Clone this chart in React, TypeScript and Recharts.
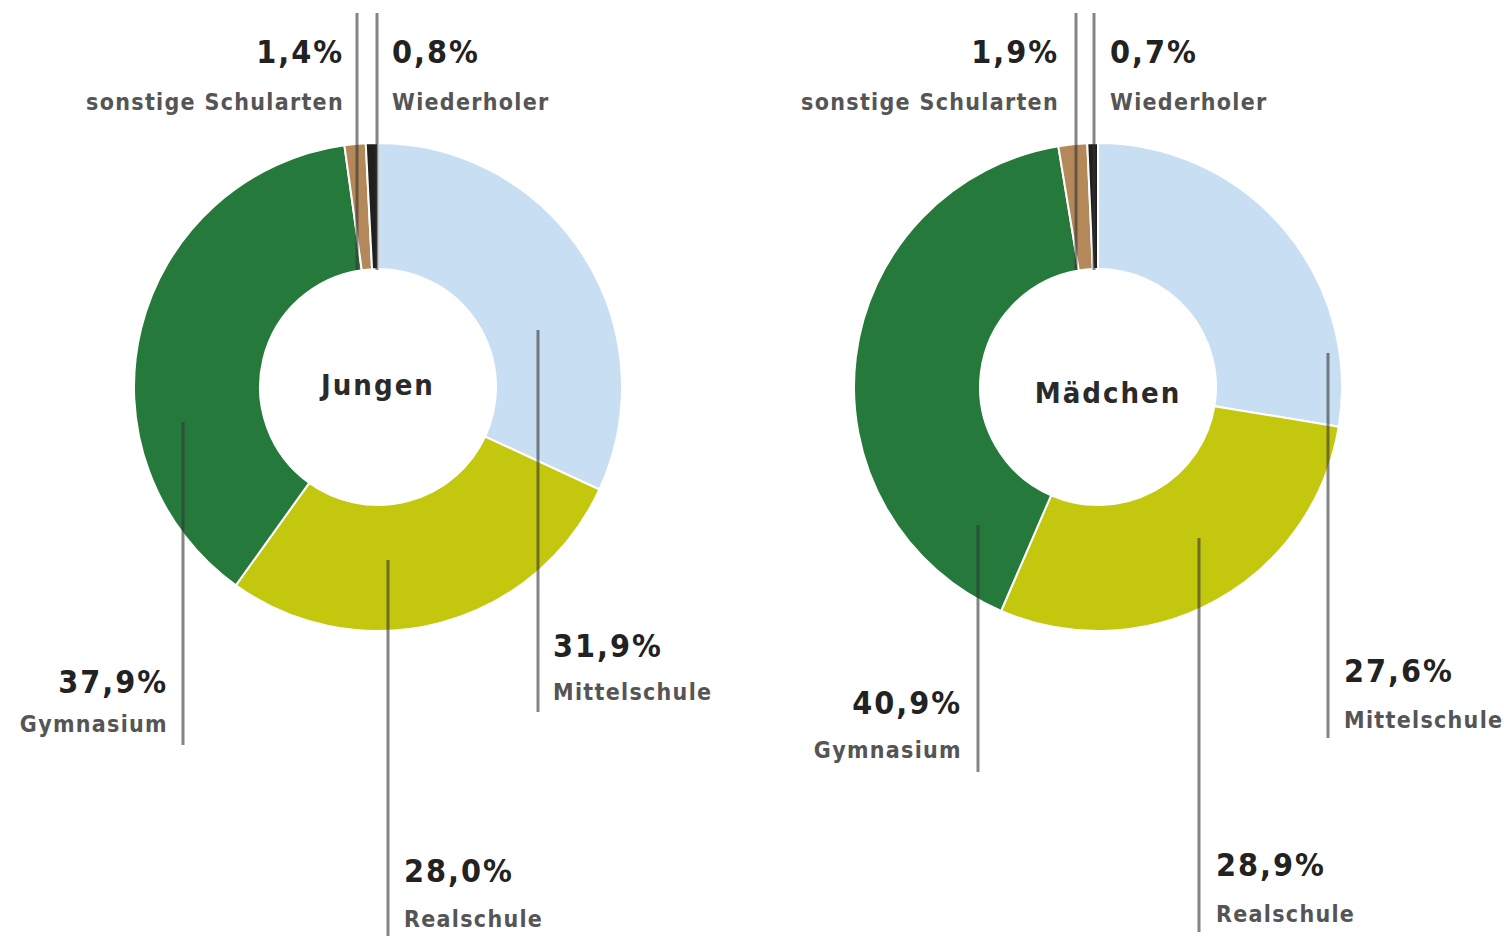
import React from 'react'
import { Cell, Pie, PieChart } from 'recharts'

// categories, clockwise from 12 o'clock
const categories = ['Mittelschule', 'Realschule', 'Gymnasium', 'sonstige Schularten', 'Wiederholer']
const jungenValues = [31.9, 28.0, 37.9, 1.4, 0.8]
const maedchenValues = [27.6, 28.9, 40.9, 1.9, 0.7]
const colors = ['#c8dff3', '#c3c80f', '#257a3b', '#b5885a', '#1f1f1f']

const jungenData = categories.map((name, i) => ({ name, value: jungenValues[i] }))
const maedchenData = categories.map((name, i) => ({ name, value: maedchenValues[i] }))

type Spot = {
	lineX: number;
	lineTop: number;
	lineBottom: number;
	textX: number;
	anchor: 'start' | 'end';
	valueY: number;
	nameY: number;
}

// leader line + text placement, relative to the pie centre
const jungenSpots: Spot[] = [
	{ lineX: 160, lineTop: -57, lineBottom: 325, textX: 175, anchor: 'start', valueY: 270, nameY: 313 },
	{ lineX: 10, lineTop: 173, lineBottom: 549, textX: 26, anchor: 'start', valueY: 495, nameY: 540 },
	{ lineX: -195, lineTop: 35, lineBottom: 358, textX: -210, anchor: 'end', valueY: 306, nameY: 345 },
	{ lineX: -21, lineTop: -374, lineBottom: -117, textX: -34, anchor: 'end', valueY: -324, nameY: -277 },
	{ lineX: -1, lineTop: -374, lineBottom: -117, textX: 14, anchor: 'start', valueY: -324, nameY: -277 },
]

const maedchenSpots: Spot[] = [
	{ lineX: 230, lineTop: -34, lineBottom: 351, textX: 246, anchor: 'start', valueY: 295, nameY: 341 },
	{ lineX: 101, lineTop: 151, lineBottom: 545, textX: 118, anchor: 'start', valueY: 489, nameY: 535 },
	{ lineX: -120, lineTop: 138, lineBottom: 385, textX: -136, anchor: 'end', valueY: 327, nameY: 371 },
	{ lineX: -22, lineTop: -374, lineBottom: -117, textX: -39, anchor: 'end', valueY: -324, nameY: -277 },
	{ lineX: -4, lineTop: -374, lineBottom: -117, textX: 12, anchor: 'start', valueY: -324, nameY: -277 },
]

const FONT = '"DejaVu Sans Condensed", "Liberation Sans Narrow", sans-serif'

const fmt = (v: number) => v.toFixed(1).replace('.', ',') + '%'

const makeLabel = (spots: Spot[], title: string, titleDx: number, titleDy: number) => (props: any) => {
	const { cx, cy, index, value } = props
	const s = spots[index]
	return (
		<g key={`lbl-${title}-${index}`}>
			{index === 0 && (
				<text x={cx + titleDx} y={cy + titleDy} textAnchor='middle' fontFamily={FONT} fontWeight='bold'
					fontSize={29} letterSpacing={2} fill='#2a2a2a'>{title}</text>
			)}
			<line x1={cx + s.lineX} x2={cx + s.lineX} y1={cy + s.lineTop} y2={cy + s.lineBottom}
				stroke='#333' strokeOpacity={0.6} strokeWidth={3} />
			<text x={cx + s.textX} y={cy + s.valueY} textAnchor={s.anchor} fontFamily={FONT} fontWeight='bold'
				fontSize={32} letterSpacing={2} fill='#222'>{fmt(value)}</text>
			<text x={cx + s.textX} y={cy + s.nameY} textAnchor={s.anchor} fontFamily={FONT} fontWeight='bold'
				fontSize={23} letterSpacing={1.3} fill='#555'>{categories[index]}</text>
		</g>
	)
}

const App = () => {
	return (
		<div style={{ position: 'absolute', left: 0, top: 0, background: '#fff' }}>
			<PieChart width={1504} height={936} margin={{ top: 0, right: 0, bottom: 0, left: 0 }}>
				<Pie data={jungenData} dataKey='value' nameKey='name' cx={378} cy={387}
					innerRadius={118} outerRadius={244} startAngle={90} endAngle={-270}
					stroke='#fff' strokeWidth={2} labelLine={false}
					label={makeLabel(jungenSpots, 'Jungen', 0, 8)} isAnimationActive={false}>
					{jungenData.map((d, i) => <Cell key={d.name} fill={colors[i]} />)}
				</Pie>
				<Pie data={maedchenData} dataKey='value' nameKey='name' cx={1098} cy={387}
					innerRadius={118} outerRadius={244} startAngle={90} endAngle={-270}
					stroke='#fff' strokeWidth={2} labelLine={false}
					label={makeLabel(maedchenSpots, 'Mädchen', 10, 16)} isAnimationActive={false}>
					{maedchenData.map((d, i) => <Cell key={d.name} fill={colors[i]} />)}
				</Pie>
			</PieChart>
		</div>
	)
}

export default App
